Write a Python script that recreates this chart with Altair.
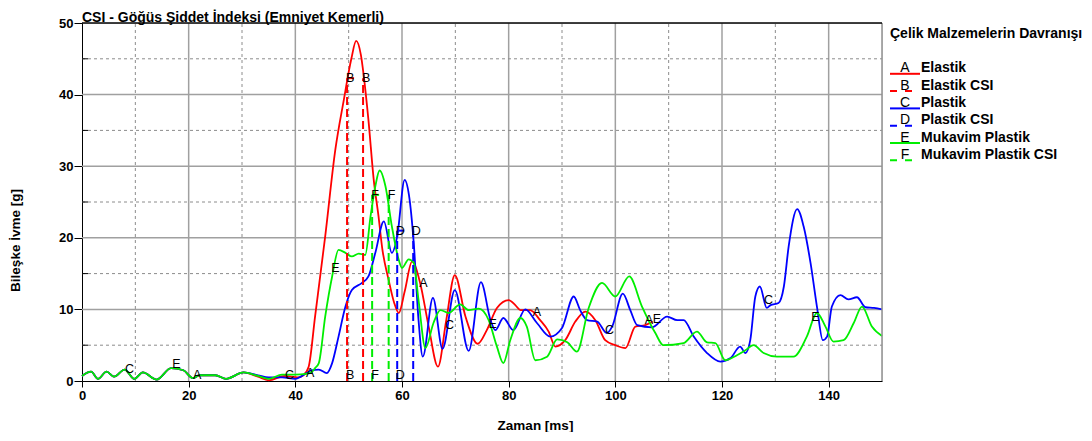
import altair as alt
import pandas as pd

# ---------------- data ----------------
red_t = [0, 1.7, 3, 4.6, 6, 8, 9.8, 11.4, 14, 16.7, 19, 20.8, 22, 25, 27, 30.3, 33, 35, 38, 40.5,
         41.5, 42.5, 43.7, 45.6, 47.5, 49.1, 50.5, 51.4, 52.3, 52.8, 53.7, 54.7, 55.6, 56.3, 57.5, 58.5,
         59.4, 60.5, 61.9, 63.4, 65, 66.75, 68.3, 69.9, 71.9, 74.2, 75.9, 77.8, 80, 81.25, 82.2, 84,
         85.9, 87.5, 88.75, 90.6, 92.5, 94.4, 96.25, 98.1, 100, 101.9, 103.75, 105.6, 107]
red_g = [0.7, 1.3, 0.3, 1.3, 0.6, 1.6, 0.3, 1.2, 0.2, 1.8, 1.5, 0.4, 0.8, 0.8, 0.3, 1.2, 0.6, 0.1, 0.7, 0.5,
         0.8, 2.0, 9, 20.2, 32.3, 39.3, 45, 47.5, 45.5, 42.8, 36.5, 28.1, 23, 18.5, 14.1, 11,
         9.5, 12.5, 16.7, 13.7, 7.6, 2.0, 8.5, 14.8, 9.0, 5.2, 7.1, 10.2, 11.3, 10.6, 9.9, 9.9,
         8.5, 6.9, 4.8, 5.7, 8.3, 9.7, 8.5, 5.7, 5.0, 4.6, 7.6, 7.8, 8.3]

blue_t = [0, 1.7, 3, 4.6, 6, 8, 9.8, 11.4, 14, 16.7, 19, 20.8, 22, 25, 27, 30.3, 33, 35, 37.5, 40,
          41.9, 43, 44.4, 45.9, 46.9, 48.1, 49.4, 50.6, 52.5, 53.7, 55, 56.6, 58.1, 59.1, 60.5, 61.3,
          62.2, 63.1, 63.9, 65.8, 67.6, 69.9, 72.5, 74.8, 76.6, 77.5, 79, 80.9, 83.1, 85.3, 87.8, 90,
          92.2, 93.4, 94.7, 96.6, 98.4, 99.4, 101.4, 102.8, 104.1, 106.9, 109.7, 111.6, 112.8, 114.7,
          117.2, 119.7, 121.6, 123.4, 124.4, 125.3, 126.25, 127.1, 128.4, 129.1, 130.6, 131.6, 132.5,
          134.1, 135.3, 136.6, 137.8, 138.9, 139.7, 140.6, 142.2, 143.7, 145.3, 146.9, 148.5, 150]
blue_g = [0.7, 1.3, 0.3, 1.3, 0.6, 1.6, 0.3, 1.2, 0.2, 1.8, 1.5, 0.4, 0.8, 0.8, 0.3, 1.2, 0.8, 0.5, 0.5, 0.3,
          1.0, 1.5, 1.6, 1.1, 2.5, 6.2, 10.4, 12.7, 13.7, 14.6, 17.9, 22.3, 17.9, 20.2, 28.1, 26,
          19.3, 8.5, 3.4, 11.6, 4.5, 12.7, 4.2, 13.8, 8.5, 7.1, 8.8, 7.1, 10, 8.1, 6.2, 7.4,
          11.8, 9.9, 8.5, 8.3, 6.7, 7.6, 12.2, 9.9, 7.8, 7.5, 9.0, 8.5, 8.5, 6.2,
          3.9, 2.7, 3.2, 4.8, 3.9, 5.7, 11.8, 13.2, 10.2, 10.6, 10.9, 13.2, 18.8,
          24.0, 21.6, 16.5, 10.4, 5.7, 6.2, 10.4, 12.0, 11.4, 11.7, 10.3, 10.2, 10.0]

green_t = [0, 1.7, 3, 4.6, 6, 8, 9.8, 11.4, 14, 16.7, 19, 20.8, 22, 25, 27, 30.3, 33, 35, 37.5, 40,
           42, 43, 43.7, 44.4, 45.6, 46.9, 48.1, 49.4, 50.6, 51.9, 53.1, 54.1, 55, 55.8, 56.9, 58.1,
           59.4, 60, 61.25, 62.2, 63.1, 64.4, 65.9, 67.2, 68.75, 70.9, 72.5, 74.4, 76.25, 77.8,
           79, 80.3, 82.2, 83.4, 85, 87.2, 89.1, 91, 92.8, 95, 97.5, 100, 102.6, 105, 107.5, 109,
           112.8, 115.3, 117.2, 118.75, 120.6, 122.8, 124.4, 125.9, 127.8, 130.3, 133.4, 135.9,
           137.8, 139.4, 140.9, 142.8, 144.7, 146.25, 148.1, 150]
green_g = [0.7, 1.3, 0.3, 1.3, 0.6, 1.6, 0.3, 1.2, 0.2, 1.8, 1.5, 0.4, 0.8, 0.8, 0.3, 1.2, 0.7, 0.3, 0.9, 0.9,
           1.0, 1.2, 1.8, 2.5, 9.0, 14.6, 18.3, 17.9, 17.4, 17.8, 17.6, 23, 27.2, 29.4, 27.2, 21.6,
           16.9, 15.8, 17.0, 16.5, 11.3, 4.6, 8.1, 9.9, 9.5, 10.7, 9.9, 10.1, 8.5, 4.8,
           2.5, 5.7, 8.8, 7.6, 2.9, 3.4, 5.8, 5.4, 4.1, 10.2, 13.7, 11.8, 14.6, 10.4, 6.7, 5.0,
           5.3, 6.9, 5.4, 5.3, 2.9, 3.6, 4.3, 5.0, 3.9, 3.4, 3.4, 6.2,
           9.5, 7.6, 5.5, 5.7, 8.1, 10.4, 7.6, 6.3]

marker_letters = ["C", "E", "A", "C", "A", "E", "A", "C", "E", "A", "C", "A", "E", "C", "E"]
marker_t = [8.9, 17.7, 21.6, 38.9, 42.8, 47.5, 64, 68.9, 77, 85.3, 98.9, 106.3, 107.8, 128.7, 137.5]
marker_g = [1.7, 2.4, 0.8, 0.8, 1.1, 15.8, 13.7, 7.8, 8.0, 9.6, 7.1, 8.5, 8.6, 11.3, 9.0]

csi_letters = ["B", "F", "D"]
csi_t1 = [49.7, 54.4, 59.1]
csi_t2 = [52.7, 57.5, 62.1]
csi_level = [42.3, 26.0, 21.0]

legend_codes = ["A", "B", "C", "D", "E", "F"]
legend_labels = ["Elastik", "Elastik CSI", "Plastik", "Plastik CSI", "Mukavim Plastik", "Mukavim Plastik CSI"]
legend_dashed = [False, True, False, True, False, True]
legend_title = "Çelik Malzemelerin Davranışı"

x_ticks = [0, 20, 40, 60, 80, 100, 120, 140]
y_ticks = [0, 10, 20, 30, 40, 50]
x_major = [20, 40, 60, 80, 100, 120, 140]
x_minor = [10, 30, 50, 70, 90, 110, 130]
y_major = [10, 20, 30, 40]
y_minor = [5, 15, 25, 35, 45]
T_MAX, G_MAX = 150, 50

RED, BLUE, GREEN = "#ff0000", "#0000ff", "#00ee00"
csi_colors = [RED, GREEN, BLUE]
legend_colors = [RED, RED, BLUE, BLUE, GREEN, GREEN]
FONT = "Liberation Sans"
W, H = 800, 358

# ---------------- scales / axes ----------------
xs = alt.Scale(domain=[0, T_MAX], nice=False, zero=False)
ys = alt.Scale(domain=[0, G_MAX], nice=False)

x_axis = alt.Axis(values=x_ticks, grid=False, tickSize=6, tickColor="black",
                  domainColor="black", labelFont=FONT, labelFontSize=13, labelFontWeight="bold",
                  labelColor="black", labelPadding=2, labelFlush=False,
                  title="Zaman [ms]", titleFont=FONT, titleFontSize=13.5, titleFontWeight="bold",
                  titleColor="black", titleX=453, titleY=44, titleBaseline="middle", titleAlign="center")
y_axis = alt.Axis(values=y_ticks, grid=False, tickSize=8, tickColor="black",
                  domainColor="black", labelFont=FONT, labelFontSize=13, labelFontWeight="bold",
                  labelColor="black", labelPadding=1,
                  title="Bileşke İvme [g]", titleFont=FONT, titleFontSize=13.5, titleFontWeight="bold",
                  titleColor="black", titleX=-67, titleY=217, titleAngle=270, titleBaseline="middle",
                  titleAlign="center")


def X(field):
    return alt.X(field, type="quantitative", scale=xs, axis=x_axis)


def Y(field):
    return alt.Y(field, type="quantitative", scale=ys, axis=y_axis)


def curve(t, g, color):
    return alt.Chart(pd.DataFrame({"t": t, "g": g})).mark_line(
        color=color, strokeWidth=1.8, interpolate="monotone").encode(x=X("t"), y=Y("g"))


lines = [curve(red_t, red_g, RED), curve(blue_t, blue_g, BLUE), curve(green_t, green_g, GREEN)]

# ---------------- grid and frame ----------------
def vrules(vals, **kw):
    df = pd.DataFrame({"t": vals, "g": [0] * len(vals), "g1": [G_MAX] * len(vals)})
    return alt.Chart(df).mark_rule(**kw).encode(x=X("t"), y=Y("g"), y2="g1:Q")


def hrules(vals, **kw):
    df = pd.DataFrame({"g": vals, "t": [0] * len(vals), "t1": [T_MAX] * len(vals)})
    return alt.Chart(df).mark_rule(**kw).encode(y=Y("g"), x=X("t"), x2="t1:Q")


vmaj = vrules(x_major, color="#a0a0a0", strokeWidth=1.5)
vmin = vrules(x_minor, color="#8c8c8c", strokeWidth=1, strokeDash=[3, 3])
hmaj = hrules(y_major, color="#a0a0a0", strokeWidth=1.5)
hmin = hrules(y_minor, color="#8c8c8c", strokeWidth=1, strokeDash=[3, 3])
right_frame = vrules([T_MAX], color="#909090", strokeWidth=1.5)
top_frame = hrules([G_MAX], color="black", strokeWidth=1.5)
yminor_ticks = alt.Chart(pd.DataFrame({"g": y_minor})).mark_rule(color="black", strokeWidth=1).encode(
    y=Y("g"), x=alt.value(0), x2=alt.value(6))

# ---------------- CSI dashed lines ----------------
csi_rows = []
for L, a, b, lv, c in zip(csi_letters, csi_t1, csi_t2, csi_level, csi_colors):
    csi_rows.append({"letter": L, "t": a, "t2": b, "g": 0, "level": lv, "gb": 0.8, "color": c, "first": 1})
    csi_rows.append({"letter": L, "t": b, "t2": b, "g": 0, "level": lv, "gb": 0.8, "color": c, "first": 0})
csi_df = pd.DataFrame(csi_rows)

csi_v = alt.Chart(csi_df).mark_rule(strokeWidth=2, strokeDash=[8, 4]).encode(
    x=X("t"), y=Y("g"), y2="level:Q", color=alt.Color("color:N", scale=None))
csi_h = alt.Chart(csi_df).transform_filter("datum.first == 1").mark_rule(
    strokeWidth=2, strokeDash=[7, 40]).encode(
    x=X("t"), x2="t2:Q", y=Y("level"), color=alt.Color("color:N", scale=None))
csi_top = alt.Chart(csi_df).mark_text(font=FONT, fontSize=12.5, color="black", dx=3, align="center",
                                      baseline="middle").encode(x=X("t"), y=Y("level"), text="letter:N")
csi_bot = alt.Chart(csi_df).transform_filter("datum.first == 1").mark_text(
    font=FONT, fontSize=12.5, color="black", dx=3, align="center", baseline="middle").encode(
    x=X("t"), y=Y("gb"), text="letter:N")

markers = alt.Chart(pd.DataFrame({"L": marker_letters, "t": marker_t, "g": marker_g})).mark_text(
    font=FONT, fontSize=12.5, color="black", align="center", baseline="middle").encode(
    x=X("t"), y=Y("g"), text="L:N")

# ---------------- legend (drawn beside the plot, pixel layout) ----------------
LEG_X0, LEG_X1, LEG_TX, LEG_LX = 808, 838, 823, 839
legend_layers = []
for i, (code, lab, col, dsh) in enumerate(zip(legend_codes, legend_labels, legend_colors, legend_dashed)):
    ty = 45.3 + 17.3 * i
    row = pd.DataFrame({"code": [code], "label": [lab]})
    rule_kw = dict(color=col, strokeWidth=2)
    if dsh:
        rule_kw["strokeDash"] = [7, 8]
    legend_layers.append(alt.Chart(row).mark_rule(**rule_kw).encode(
        x=alt.value(LEG_X0), x2=alt.value(LEG_X1), y=alt.value(ty + 5.5)))
    legend_layers.append(alt.Chart(row).mark_text(
        font=FONT, fontSize=14, color="black", align="center", baseline="middle").encode(
        x=alt.value(LEG_TX), y=alt.value(ty), text="code:N"))
    legend_layers.append(alt.Chart(row).mark_text(
        font=FONT, fontSize=14, fontWeight="bold", color="black", align="left", baseline="middle").encode(
        x=alt.value(LEG_LX), y=alt.value(ty), text="label:N"))
legend_layers.append(alt.Chart(pd.DataFrame({"s": [legend_title]})).mark_text(
    font=FONT, fontSize=14, fontWeight="bold", color="black", align="left", baseline="middle",
    limit=194).encode(x=alt.value(LEG_X0), y=alt.value(11), text="s:N"))

chart = alt.layer(
    vmaj, vmin, hmaj, hmin, *lines, csi_v, csi_h, csi_top, csi_bot, markers,
    right_frame, top_frame, yminor_ticks, *legend_layers,
).properties(
    width=W, height=H, padding={"top": 3, "left": 0, "right": 0, "bottom": 0},
    title=alt.TitleParams("CSI - Göğüs Şiddet İndeksi (Emniyet Kemerli)", anchor="start", frame="group",
                          font=FONT, fontSize=14, fontWeight="bold", color="black", offset=-8),
).configure_view(stroke=None).configure(background="white")

chart.save("out.html", embed_options={"renderer": "svg", "actions": False})
